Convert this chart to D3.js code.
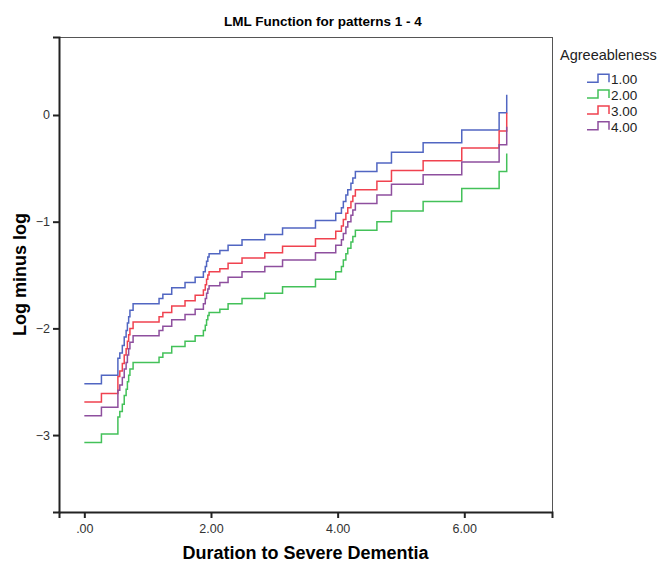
<!DOCTYPE html>
<html>
<head>
<meta charset="utf-8">
<script src="https://cdn.jsdelivr.net/npm/d3@7"></script>
<style>
  body { margin: 0; background: #fff; }
  text { font-family: "Liberation Sans", Arial, sans-serif; }
</style>
</head>
<body>
<div id="chart"></div>
<script>
// event times (shared by all patterns)
var times = [0.00, 0.27, 0.53, 0.56, 0.60, 0.63, 0.66, 0.68, 0.70, 0.72, 0.77,
  1.18, 1.24, 1.38, 1.59, 1.75, 1.88, 1.91, 1.93, 1.95, 1.97, 2.14, 2.27, 2.49,
  2.85, 3.13, 3.65, 3.97, 4.06, 4.09, 4.13, 4.16, 4.21, 4.24, 4.28, 4.62, 4.85,
  5.35, 5.96, 6.55, 6.67];

var lml100 = [-2.52, -2.44, -2.28, -2.23, -2.16, -2.08, -2.02, -1.95, -1.89, -1.83, -1.77,
  -1.72, -1.68, -1.62, -1.57, -1.52, -1.47, -1.42, -1.37, -1.33, -1.30, -1.27, -1.22, -1.17,
  -1.12, -1.06, -0.99, -0.92, -0.87, -0.81, -0.75, -0.70, -0.64, -0.59, -0.53, -0.45, -0.35,
  -0.26, -0.14, 0.02, 0.19];
var lml200 = [-3.07, -2.99, -2.83, -2.78, -2.71, -2.63, -2.57, -2.50, -2.44, -2.38, -2.32,
  -2.27, -2.23, -2.17, -2.12, -2.07, -2.02, -1.97, -1.92, -1.88, -1.85, -1.82, -1.77, -1.72,
  -1.67, -1.61, -1.54, -1.47, -1.42, -1.36, -1.30, -1.25, -1.19, -1.14, -1.08, -1.00, -0.90,
  -0.81, -0.69, -0.53, -0.36];
var lml300 = [-2.69, -2.61, -2.45, -2.40, -2.33, -2.25, -2.19, -2.12, -2.06, -2.00, -1.94,
  -1.89, -1.85, -1.79, -1.74, -1.69, -1.64, -1.59, -1.54, -1.50, -1.47, -1.44, -1.39, -1.34,
  -1.29, -1.23, -1.16, -1.09, -1.04, -0.98, -0.92, -0.87, -0.81, -0.76, -0.70, -0.62, -0.52,
  -0.43, -0.31, -0.15, 0.02];
var lml400 = [-2.82, -2.74, -2.58, -2.53, -2.46, -2.38, -2.32, -2.25, -2.19, -2.13, -2.07,
  -2.02, -1.98, -1.92, -1.87, -1.82, -1.77, -1.72, -1.67, -1.63, -1.60, -1.57, -1.52, -1.47,
  -1.42, -1.36, -1.29, -1.22, -1.17, -1.11, -1.05, -1.00, -0.94, -0.89, -0.83, -0.75, -0.65,
  -0.56, -0.44, -0.28, -0.11];

var groups = ["1.00", "2.00", "3.00", "4.00"];
var colors = ["#5166c2", "#43c159", "#f0424f", "#8e4f9e"];
var xTicks = [0, 2, 4, 6];
var yTicks = [0, -1, -2, -3];

var series = [lml100, lml200, lml300, lml400].map(function(vals, i) {
  return { name: groups[i], color: colors[i],
           points: times.map(function(t, j) { return [t, vals[j]]; }) };
});

var width = 665, height = 568;
var plot = { left: 59, right: 552, top: 37, bottom: 512 };

var svg = d3.select("#chart").append("svg")
  .attr("width", width)
  .attr("height", height);

var xScale = d3.scaleLinear().domain([-0.4, 7.385]).range([plot.left, plot.right]);
var yScale = d3.scaleLinear().domain([-3.721, 0.731]).range([plot.bottom, plot.top]);

// frame
svg.append("rect")
  .attr("x", plot.left + 0.5)
  .attr("y", plot.top + 0.5)
  .attr("width", plot.right - plot.left)
  .attr("height", plot.bottom - plot.top)
  .attr("fill", "none")
  .attr("stroke", "#555")
  .attr("stroke-width", 1);

var line = d3.line()
  .x(function(d) { return xScale(d[0]); })
  .y(function(d) { return yScale(d[1]); })
  .curve(d3.curveStepAfter);

svg.append("g").selectAll("path")
  .data(series)
  .enter().append("path")
  .attr("d", function(d) { return line(d.points); })
  .attr("fill", "none")
  .attr("stroke", function(d) { return d.color; })
  .attr("stroke-width", 1.5);

// axes
var xAxis = svg.append("g")
  .attr("transform", "translate(0," + plot.bottom + ")")
  .call(d3.axisBottom(xScale).tickValues(xTicks).tickSizeOuter(0).tickSize(6).tickPadding(6)
    .tickFormat(function(d) { return d === 0 ? ".00" : d3.format(".2f")(d); }));
var yAxis = svg.append("g")
  .attr("transform", "translate(" + plot.left + ",0)")
  .call(d3.axisLeft(yScale).tickValues(yTicks).tickSizeOuter(0).tickSize(6).tickPadding(3)
    .tickFormat(d3.format("d")));

[xAxis, yAxis].forEach(function(a) {
  a.select(".domain").attr("stroke", "#222").attr("stroke-width", 2);
  a.selectAll(".tick line").attr("stroke", "#222").attr("stroke-width", 2);
  a.selectAll(".tick text")
    .attr("fill", "#333")
    .style("font-family", "'Liberation Sans', Arial, sans-serif")
    .style("font-size", "12.5px");
});

// titles
svg.append("text")
  .attr("x", 323)
  .attr("y", 26)
  .attr("text-anchor", "middle")
  .style("font-size", "13.5px")
  .style("font-weight", "bold")
  .text("LML Function for patterns 1 - 4");

svg.append("text")
  .attr("x", (plot.left + plot.right) / 2)
  .attr("y", 559)
  .attr("text-anchor", "middle")
  .style("font-size", "18px")
  .style("font-weight", "bold")
  .text("Duration to Severe Dementia");

svg.append("text")
  .attr("transform", "translate(26," + (plot.top + plot.bottom) / 2 + ") rotate(-90)")
  .attr("text-anchor", "middle")
  .style("font-size", "18px")
  .style("font-weight", "bold")
  .text("Log minus log");

// legend
var legend = svg.append("g");
legend.append("text")
  .attr("x", 560)
  .attr("y", 60)
  .style("font-size", "14.5px")
  .attr("fill", "#222")
  .text("Agreeableness");

var item = legend.selectAll(".item")
  .data(series)
  .enter().append("g")
  .attr("class", "item")
  .attr("transform", function(d, i) { return "translate(0," + (79.3 + i * 15.8) + ")"; });

item.append("path")
  .attr("d", "M587,3H598V-5H609V3")
  .attr("fill", "none")
  .attr("stroke", function(d) { return d.color; })
  .attr("stroke-width", 1.5);

item.append("text")
  .attr("x", 611)
  .attr("y", 5)
  .style("font-size", "13.5px")
  .attr("fill", "#222")
  .text(function(d) { return d.name; });
</script>
</body>
</html>
